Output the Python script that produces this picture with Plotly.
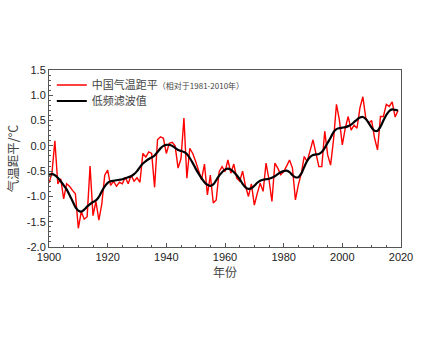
import plotly.graph_objects as go

years = list(range(1900, 2020))

anomaly = [
    -0.73, -0.55, 0.10, -0.75, -0.65, -1.05, -0.75, -0.80, -0.88, -0.95,   # 1900s
    -1.63, -1.30, -1.45, -1.40, -0.40, -1.38, -1.10, -1.47, -1.15, -0.58,  # 1910s
    -0.48, -0.78, -0.70, -0.80, -0.72, -0.75, -0.62, -0.75, -0.58, -0.70,  # 1920s
    -0.63, -0.72, -0.15, -0.22, -0.12, -0.15, -0.82, 0.12, 0.18, 0.15,    # 1930s
    -0.15, 0.05, 0.07, 0.00, -0.44, -0.25, 0.55, -0.64, -0.05, -0.15,     # 1940s
    -0.31, -0.51, -0.67, -0.36, -0.97, -0.58, -1.13, -1.07, -0.51, -0.41, # 1950s
    -0.51, -0.28, -0.54, -0.36, -0.64, -0.70, -0.50, -0.80, -1.00, -0.75, # 1960s
    -1.17, -0.94, -0.74, -0.90, -0.34, -0.67, -1.10, -0.34, -0.44, -0.57, # 1970s
    -0.51, -0.40, -0.28, -0.44, -1.07, -0.77, -0.55, -0.21, -0.31, -0.10, # 1980s
    0.12, -0.15, -0.41, -0.41, 0.29, -0.18, -0.38, 0.12, 0.82, 0.51,      # 1990s
    0.02, 0.35, 0.58, 0.31, 0.41, 0.35, 0.75, 0.97, 0.55, 0.45,           # 2000s
    0.50, 0.15, -0.08, 0.58, 0.58, 0.82, 0.78, 0.87, 0.57, 0.70,          # 2010s
]

lowpass = [
    -0.57, -0.56, -0.58, -0.63, -0.70, -0.78, -0.86, -0.97, -1.09, -1.21,  # 1900s
    -1.28, -1.30, -1.26, -1.20, -1.15, -1.11, -1.08, -1.01, -0.90, -0.80,  # 1910s
    -0.73, -0.70, -0.69, -0.68, -0.67, -0.66, -0.64, -0.62, -0.60, -0.56,  # 1920s
    -0.50, -0.42, -0.35, -0.30, -0.26, -0.23, -0.19, -0.12, -0.05, 0.00,   # 1930s
    0.02, 0.02, 0.00, -0.04, -0.08, -0.10, -0.12, -0.16, -0.24, -0.34,     # 1940s
    -0.45, -0.55, -0.64, -0.72, -0.77, -0.79, -0.76, -0.68, -0.59, -0.52,  # 1950s
    -0.47, -0.45, -0.47, -0.52, -0.58, -0.66, -0.75, -0.82, -0.85, -0.84,  # 1960s
    -0.79, -0.73, -0.69, -0.67, -0.66, -0.65, -0.63, -0.60, -0.56, -0.52,  # 1970s
    -0.50, -0.49, -0.52, -0.58, -0.62, -0.62, -0.55, -0.42, -0.30, -0.22,  # 1980s
    -0.18, -0.17, -0.16, -0.12, -0.04, 0.06, 0.16, 0.27, 0.33, 0.35,       # 1990s
    0.36, 0.37, 0.39, 0.42, 0.47, 0.52, 0.56, 0.57, 0.53, 0.45,            # 2000s
    0.36, 0.30, 0.30, 0.38, 0.50, 0.61, 0.69, 0.72, 0.71, 0.70,            # 2010s
]

name_raw = "中国气温距平<span style='font-size:8px'>（相对于1981-2010年）</span>"
name_filt = "低频滤波值"

x_ticks = [1900, 1920, 1940, 1960, 1980, 2000, 2020]
y_ticks = [1.5, 1.0, 0.5, 0.0, -0.5, -1.0, -1.5, -2.0]

fig = go.Figure()
fig.add_trace(go.Scatter(x=years, y=anomaly, mode="lines", name=name_raw,
                         line=dict(color="#ff0000", width=1.4), legend="legend"))
fig.add_trace(go.Scatter(x=years, y=lowpass, mode="lines", name=name_filt,
                         line=dict(color="#000000", width=2.2, shape="spline"),
                         legend="legend2"))

axis_common = dict(showline=True, linecolor="#555555", linewidth=1, mirror=True,
                   ticks="inside", ticklen=4, tickcolor="#555555",
                   showgrid=False, zeroline=False,
                   tickfont=dict(family="Liberation Sans, Arial", size=11, color="#222222"))

legend_common = dict(xanchor="left", yanchor="middle",
                     bgcolor="rgba(0,0,0,0)", borderwidth=0,
                     font=dict(family="Noto Sans CJK SC", size=11, color="#444444"),
                     itemwidth=30)

fig.update_layout(
    width=425, height=342,
    margin=dict(l=49, r=19, t=70, b=95),
    paper_bgcolor="white", plot_bgcolor="white",
    font=dict(family="Noto Sans CJK SC", color="#333333"),
    showlegend=True,
    legend=dict(x=0.008, y=0.915, **legend_common),
    legend2=dict(x=0.008, y=0.825, **legend_common),
    xaxis=dict(range=[1900, 2020], tickvals=x_ticks,
               ticktext=[str(v) for v in x_ticks],
               minor=dict(dtick=5, ticks="inside", ticklen=2, tickcolor="#555555"),
               title=dict(text="年份", font=dict(family="Noto Sans CJK SC", size=12, color="#444444"),
                          standoff=4),
               **axis_common),
    yaxis=dict(range=[-2.0, 1.5], tickvals=y_ticks,
               ticktext=[f"{v:.1f}" for v in y_ticks],
               minor=dict(dtick=0.1, ticks="inside", ticklen=2, tickcolor="#555555"),
               title=dict(text="气温距平/°C", font=dict(family="Noto Sans CJK SC", size=12.5, color="#444444"),
                          standoff=5),
               **axis_common),
)

fig.write_html("out.html")
